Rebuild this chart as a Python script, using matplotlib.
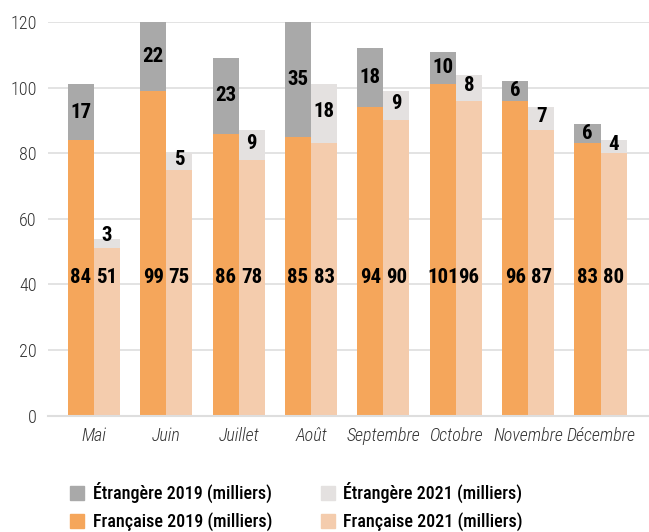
import numpy as np
import matplotlib.pyplot as plt
from matplotlib.patches import Patch

# Data (milliers)
mois = ['Mai', 'Juin', 'Juillet', 'Août', 'Septembre', 'Octobre', 'Novembre', 'Décembre']
fr_2019 = [84, 99, 86, 85, 94, 101, 96, 83]
etr_2019 = [17, 22, 23, 35, 18, 10, 6, 6]
fr_2021 = [51, 75, 78, 83, 90, 96, 87, 80]
etr_2021 = [3, 5, 9, 18, 9, 8, 7, 4]

c_fr19 = '#F5A65B'
c_etr19 = '#A9A9A9'
c_fr21 = '#F4CCAD'
c_etr21 = '#E4E1E0'

narrow = ['Roboto Condensed', 'Archivo Narrow', 'Barlow Condensed', 'DejaVu Sans']
plt.rcParams['font.family'] = narrow

fig = plt.figure(figsize=(6.49, 5.32), dpi=100)
ax = fig.add_axes([0.074, 0.2186, 0.926, 0.74])

x = np.arange(len(mois))
w = 0.36

ax.bar(x - w / 2, fr_2019, w, color=c_fr19, zorder=2)
ax.bar(x - w / 2, etr_2019, w, bottom=fr_2019, color=c_etr19, zorder=2)
ax.bar(x + w / 2, fr_2021, w, color=c_fr21, zorder=2)
ax.bar(x + w / 2, etr_2021, w, bottom=fr_2021, color=c_etr21, zorder=2)

lab = dict(ha='center', va='center', fontsize=15, fontweight='bold', color='black', zorder=3)
for i in range(len(mois)):
    ax.text(x[i] - w / 2, 42, str(fr_2019[i]), **lab)
    ax.text(x[i] + w / 2, 42, str(fr_2021[i]), **lab)
    top19 = min(fr_2019[i] + etr_2019[i], 120)
    ax.text(x[i] - w / 2, (fr_2019[i] + top19) / 2, str(etr_2019[i]), **lab)
    # small segments: label sits a bit above the segment centre
    ax.text(x[i] + w / 2, fr_2021[i] + etr_2021[i] / 2 + (2.5 if etr_2021[i] < 4 else 0.6),
            str(etr_2021[i]), **lab)

ax.set_ylim(0, 120)
ax.set_xlim(-0.635, 7.67)
ax.set_yticks(range(0, 121, 20))
ax.yaxis.grid(True, color='#DEDEDE', linewidth=1.2, zorder=0)
ax.set_axisbelow(True)
for s in ['top', 'right', 'left']:
    ax.spines[s].set_visible(False)
ax.spines['bottom'].set_color('#DEDEDE')
ax.spines['bottom'].set_linewidth(1.5)
ax.tick_params(axis='both', length=0)
ax.tick_params(axis='y', labelsize=13, labelcolor='#333333', pad=8)
ax.set_xticks(x)
ax.set_xticklabels(mois, fontsize=13, fontstyle='italic', fontweight='light', color='#333333')
ax.tick_params(axis='x', pad=8)
for t in ax.get_yticklabels():
    t.set_fontweight('light')

handles = [Patch(color=c_etr19), Patch(color=c_fr19), Patch(color=c_etr21), Patch(color=c_fr21)]
labels = ['Étrangère 2019 (milliers)', 'Française 2019 (milliers)',
          'Étrangère 2021 (milliers)', 'Française 2021 (milliers)']
fig.legend(handles, labels, ncol=2, loc='upper left', bbox_to_anchor=(70 / 649, 1 - 482 / 532),
           frameon=False, prop={'size': 13, 'weight': 'medium', 'family': narrow},
           borderpad=0, borderaxespad=0,
           handlelength=0.8, handleheight=0.8, handletextpad=0.45,
           columnspacing=2.7, labelspacing=0.5)

fig.savefig('out.png', dpi=100)
